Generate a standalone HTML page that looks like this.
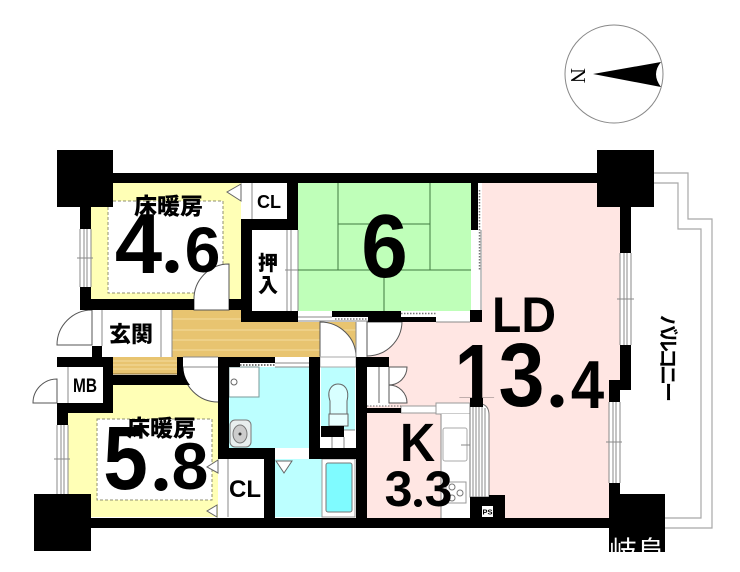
<!DOCTYPE html>
<html><head><meta charset="utf-8">
<style>
html,body{margin:0;padding:0;background:#fff}
svg{display:block}
text{font-family:"Liberation Sans","Noto Sans CJK JP",sans-serif;font-weight:bold;fill:#000}
.j{font-family:"Noto Sans CJK JP","Liberation Sans",sans-serif;font-weight:900}
.c{text-anchor:middle}
.g{stroke:#8a8a8a;stroke-width:1;fill:none}
.t{stroke:#3f7a3f;stroke-width:1;fill:none}
</style></head><body>
<svg width="740" height="572" viewBox="0 0 740 572" xmlns="http://www.w3.org/2000/svg">
<defs>
<clipPath id="one"><path d="M440 330H500V398H483V410H470V398H440Z"/></clipPath>
</defs>
<rect width="740" height="572" fill="#fff"/>

<!-- compass -->
<circle cx="614" cy="74" r="49" fill="#fff" stroke="#888" stroke-width="1"/>
<path d="M593 74L661 62Q651 74 661 87Z" fill="#000"/>
<text x="0" y="0" transform="translate(571,68) rotate(90)" style="font-family:'Liberation Serif',serif;font-weight:normal;font-size:21px">N</text>

<!-- balcony -->
<path d="M654 173H688V219H712V528H665M654 183H678V229H701V518H665" fill="none" stroke="#a8a8a8" stroke-width="1.2"/>

<!-- room colours -->
<path d="M113 183H241V299H91V207H113Z" fill="#ffffb6"/>
<rect x="108" y="201" width="115" height="92" fill="#fff" stroke="#8f8f70" stroke-width="1" stroke-dasharray="3 2"/>
<path d="M113 385H218V517H68V413H113Z" fill="#ffffb6"/>
<rect x="97" y="419" width="115" height="81" fill="#fff" stroke="#8f8f70" stroke-width="1" stroke-dasharray="3 2"/>
<rect x="298" y="183" width="173" height="128" fill="#bfffb9"/>
<path d="M482 183H620V380H609V518H367V322H482Z" fill="#ffe6e3"/>
<rect x="229" y="367" width="80" height="81" fill="#bcffff"/>
<rect x="321" y="367" width="34" height="63" fill="#bcffff"/>
<rect x="275" y="459" width="80" height="58" fill="#bcffff"/>

<!-- wood floor -->
<path d="M172 310H241V322H356V357H172Z" fill="#e8c470"/>
<path d="M172 319H241M172 330H356M172 340H320M172 350H320" stroke="#f3dc9e" stroke-width="1"/>
<rect x="109" y="357" width="68" height="17" fill="#e8c470"/>
<path d="M109 361H177M109 365H177M109 369H177" stroke="#f3dc9e" stroke-width="1"/>
<path d="M109 374H177" stroke="#8a6d30" stroke-width="1"/>

<!-- white areas -->
<rect x="92" y="310" width="69" height="47" fill="#fff"/>
<rect x="161" y="310" width="11" height="47" fill="#fff"/>
<path class="g" d="M102 310V346M161 310V357M172 310V357"/>
<rect x="242" y="183" width="45" height="36" fill="#fff"/>
<path class="g" d="M252 183V219"/>
<rect x="252" y="230" width="46" height="81" fill="#fff"/>
<path class="g" d="M287 230V311M291 230V311M298 230V311M285 270H300"/>
<rect x="68" y="367" width="35" height="36" fill="#fff"/>
<rect x="57" y="367" width="11" height="36" fill="#fff"/>
<path class="g" d="M68 367V403"/>
<rect x="218" y="459" width="46" height="58" fill="#fff"/>
<path class="g" d="M228 459V517"/>
<rect x="229" y="367" width="30" height="30" fill="#fff" stroke="#7a9a9a"/>
<circle cx="234" cy="382" r="3" fill="#fff" stroke="#666"/>
<rect x="230" y="420" width="21" height="27" rx="5" fill="#e8eeee" stroke="#777"/>
<ellipse cx="240" cy="434" rx="7" ry="9" fill="#ccc" stroke="#777"/>
<circle cx="240" cy="434" r="1.5" fill="#333"/>
<rect x="275" y="357" width="34" height="10" fill="#fff"/>
<path class="g" d="M275 363H309M275 367H309"/>
<path d="M240 365H275" stroke="#777" stroke-width="2" stroke-dasharray="1.5 1.5"/>
<rect x="275" y="448" width="34" height="11" fill="#fff"/>
<rect x="321" y="357" width="34" height="10" fill="#fff"/>
<rect x="321" y="437" width="34" height="11" fill="#fff"/>
<path class="g" d="M332 437V448M344 437V448M344 430H355"/>
<path d="M330 415V401C326 389 333 384 338 384C344 384 350 389 347 401V415Z" fill="#d8ffff" stroke="#666"/>
<rect x="329" y="414" width="19" height="12" fill="#e8ffff" stroke="#666"/>
<rect x="322" y="459" width="33" height="58" fill="#fff" stroke="#999"/>
<rect x="326" y="463" width="26" height="49" rx="2" fill="#7ffbff" stroke="#777"/>
<path d="M276 461H292L284 473Z" fill="#fff" stroke="#666"/>
<path d="M241 184L227 192L241 201Z" fill="#fff" stroke="#666"/>
<path d="M218 460L207 467L218 473Z" fill="#fff" stroke="#666"/>
<path d="M217 505L207 511L217 517Z" fill="#fff" stroke="#666"/>

<!-- tatami -->
<path class="t" d="M338 183V270M430 183V270M338 224H430M298 270H471M384 270V311"/>

<!-- green right strip -->
<rect x="471" y="230" width="10" height="81" fill="#fff"/>
<rect x="477" y="190" width="5" height="80" fill="#fff"/>
<path d="M479.5 190V270" stroke="#777" stroke-width="1.5" stroke-dasharray="1.5 1.5"/>
<path class="g" d="M481 230V311"/>
<!-- strips under green -->
<rect x="298" y="311" width="173" height="11" fill="#fff"/>
<path class="g" d="M298 317H332M298 321H368"/>
<path d="M335 319H367M401 313.5H436" stroke="#777" stroke-width="1.5" stroke-dasharray="1.5 1.5"/>
<path class="g" d="M436 322H470"/>

<!-- doors -->
<path d="M194 300A35 35 0 0 1 229 264V310H194Z" fill="#fff" stroke="#555"/>
<path d="M92 310A35 35 0 0 0 57 345H92Z" fill="#fff" stroke="#555"/>
<path d="M320 322A36 35 0 0 1 356 357H320Z" fill="#fff" stroke="#555"/>
<rect x="320" y="357" width="36" height="10" fill="#fff" stroke="#aaa"/>
<rect x="356" y="322" width="11" height="35" fill="#fff"/>
<path class="g" d="M356 322V357M367 322V357"/>
<path d="M402 322A35 35 0 0 1 367 356V322Z" fill="#fff" stroke="#555"/>
<path d="M183 357V367A35 35 0 0 0 218 402V357Z" fill="#fff"/>
<path d="M183 367A35 35 0 0 0 218 402" fill="none" stroke="#555"/>
<path class="g" d="M183 357H218M183 367H218"/>
<path d="M57 379A24 24 0 0 0 33 403H57Z" fill="#fff" stroke="#555"/>

<!-- LD closet -->
<rect x="367" y="367" width="22" height="39" fill="#fff"/>
<path d="M379 367V403" stroke="#999" stroke-width="1.5"/>
<path d="M389 367H407A18 18 0 0 1 389 385Z" fill="#fff" stroke="#555"/>
<path d="M389 385A18 18 0 0 1 407 403H389Z" fill="#fff" stroke="#555"/>
<rect x="401" y="406" width="35" height="7" fill="#fff" stroke="#999"/>
<path d="M367 406H401" stroke="#666" stroke-width="1" stroke-dasharray="1.5 1.5"/>
<rect x="436" y="403" width="34" height="11" fill="#fff" stroke="#999"/>

<!-- kitchen -->
<rect x="441" y="414" width="29" height="104" fill="#fff"/>
<path class="g" d="M441 414V518"/>
<rect x="443" y="428" width="24" height="33" rx="2" fill="#fff" stroke="#aaa"/>
<path d="M461 445H470" stroke="#888"/>
<rect x="446" y="482" width="20" height="21" fill="#fff" stroke="#999"/>
<circle cx="452" cy="487" r="3" fill="#fff" stroke="#777"/>
<circle cx="460" cy="493" r="3" fill="#fff" stroke="#777"/>
<circle cx="452" cy="498" r="3" fill="#fff" stroke="#777"/>
<path d="M470 404H482Q489 406 489 415V497H470Z" fill="#fff" stroke="#777"/>
<path class="g" d="M473 405V497M476 405V497M479 405V497M482 405V497M485 408V497"/>

<!-- windows -->
<g>
<rect x="80" y="229" width="11" height="58" fill="#fff"/>
<path class="g" d="M80 229V287M84 229V287M87 229V287M91 229V287M77 258H93"/>
<rect x="57" y="425" width="11" height="69" fill="#fff"/>
<path class="g" d="M57 425V494M61 425V494M64 425V494M68 425V494M54 459H70"/>
<rect x="620" y="253" width="11" height="92" fill="#fff"/>
<path class="g" d="M620 253V345M624 253V345M627 253V345M631 253V345M617 299H634"/>
<rect x="609" y="402" width="11" height="81" fill="#fff"/>
<path class="g" d="M609 402V483M613 402V483M616 402V483M620 402V483M606 442H622"/>
</g>

<!-- walls -->
<g fill="#000">
<rect x="57" y="150" width="56" height="57"/>
<rect x="597" y="150" width="57" height="57"/>
<rect x="34" y="494" width="57" height="57"/>
<rect x="609" y="494" width="56" height="58"/>
<rect x="113" y="173" width="484" height="10"/>
<rect x="91" y="518" width="518" height="10"/>
<rect x="620" y="207" width="11" height="46"/>
<rect x="620" y="345" width="11" height="45"/>
<rect x="609" y="380" width="11" height="22"/>
<rect x="609" y="483" width="11" height="11"/>
<rect x="80" y="207" width="11" height="22"/>
<rect x="80" y="287" width="11" height="23"/>
<rect x="80" y="299" width="114" height="11"/>
<rect x="229" y="299" width="12" height="11"/>
<rect x="241" y="219" width="11" height="103"/>
<rect x="241" y="219" width="57" height="11"/>
<rect x="287" y="183" width="11" height="47"/>
<rect x="241" y="311" width="57" height="11"/>
<rect x="92" y="346" width="10" height="12"/>
<rect x="57" y="357" width="52" height="10"/>
<rect x="103" y="357" width="10" height="56"/>
<rect x="57" y="403" width="56" height="10"/>
<rect x="57" y="413" width="11" height="12"/>
<rect x="103" y="375" width="80" height="10"/>
<path d="M177 357H183V367Q184 378 190 385H177Z"/>
<rect x="218" y="357" width="57" height="6"/>
<rect x="218" y="363" width="22" height="4"/>
<rect x="218" y="367" width="11" height="92"/>
<rect x="218" y="448" width="57" height="11"/>
<rect x="264" y="459" width="11" height="59"/>
<rect x="309" y="357" width="11" height="102"/>
<rect x="309" y="448" width="58" height="11"/>
<rect x="321" y="426" width="23" height="11"/>
<rect x="356" y="357" width="11" height="161"/>
<rect x="356" y="357" width="33" height="10"/>
<rect x="367" y="408" width="34" height="5"/>
<rect x="471" y="183" width="7" height="47"/>
<rect x="470" y="310" width="12" height="12"/>
<rect x="332" y="311" width="69" height="6"/>
<rect x="368" y="317" width="68" height="5"/>
<path d="M470 497H489V495H505V518H470Z"/>
<rect x="482" y="506" width="11" height="11" fill="#fff"/>
</g>

<!-- labels -->
<text class="j" x="134" y="214" font-size="23">床暖房</text>
<text class="j" x="127" y="436" font-size="23">床暖房</text>

<text class="c" x="138.5" y="273" font-size="85">4</text>
<text class="c" x="172" y="270" font-size="60">.</text>
<circle cx="172" cy="266.5" r="6.5"/>
<text class="c" x="202.5" y="272" font-size="64">6</text>

<text class="c" transform="translate(125.5,489) scale(.89,1)" font-size="90">5</text>
<text class="c" x="161" y="488" font-size="60">.</text>
<circle cx="161" cy="484.5" r="6.5"/>
<text class="c" x="190" y="489" font-size="66">8</text>

<text class="c" transform="translate(384.5,277) scale(.93,1)" font-size="90">6</text>

<text transform="translate(492,332) scale(.96,1)" font-size="50">LD</text>

<g clip-path="url(#one)"><text class="c" transform="translate(475.4,407) scale(.83,1)" font-size="90">1</text></g>
<text class="c" transform="translate(521.5,406) scale(.92,1)" font-size="90">3</text>
<text class="c" x="557" y="405" font-size="60">.</text>
<circle cx="557" cy="401" r="6.5"/>
<text class="c" transform="translate(587.5,408) scale(.88,1)" font-size="68">4</text>

<text transform="translate(400,461) scale(.9,1)" font-size="54">K</text>
<text class="c" x="398.5" y="506" font-size="50">3</text>
<text class="c" x="418" y="506" font-size="36">.</text>
<circle cx="418" cy="503" r="4"/>
<text class="c" x="438.5" y="506" font-size="50">3</text>

<text x="257" y="208" font-size="18">CL</text>
<text x="229" y="497" font-size="24">CL</text>
<text x="73" y="392" font-size="19" textLength="24" lengthAdjust="spacingAndGlyphs">MB</text>
<text x="482.5" y="514.5" font-size="7.5">PS</text>
<text class="j" x="109" y="342" font-size="22">玄関</text>
<text class="j" x="258" y="270" font-size="20">押</text>
<text class="j" x="258" y="292" font-size="20">入</text>
<text class="j" x="0" y="0" transform="translate(661,315) rotate(90)" font-size="20" style="font-weight:700" textLength="87">バルコニー</text>
<text class="j" x="609" y="561" font-size="28" style="fill:#fff;font-weight:400">岐阜</text>
<rect x="600" y="552" width="80" height="20" fill="#fff"/>
</svg>
</body></html>
